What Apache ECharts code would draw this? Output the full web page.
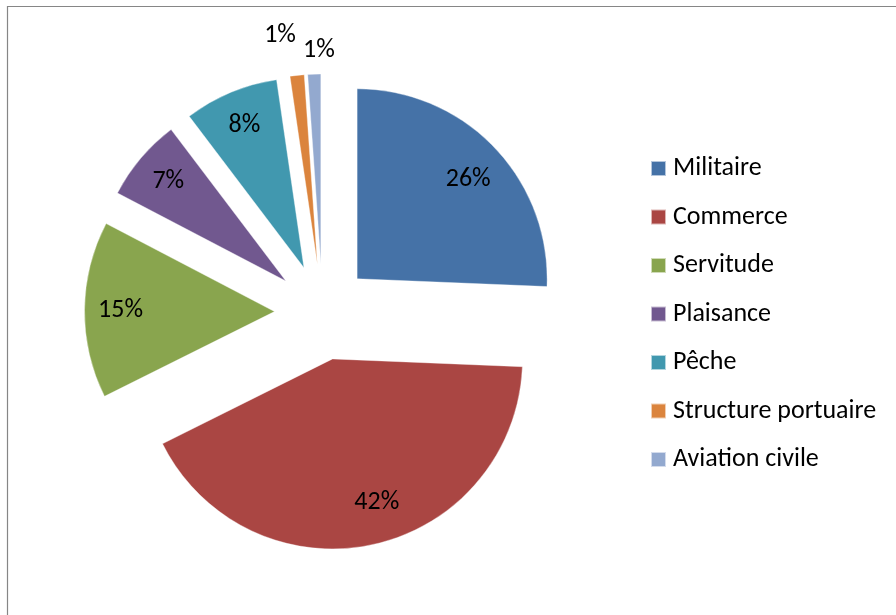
<!DOCTYPE html>
<html>
<head>
<meta charset="utf-8">
<script src="https://cdn.jsdelivr.net/npm/echarts@6/dist/echarts.min.js"></script>
<style>
  html, body { margin: 0; padding: 0; background: #ffffff; }
  #chart { width: 896px; height: 615px; }
</style>
</head>
<body>
<div id="chart"></div>
<script>
// Share of each activity (percent)
const categories = ['Militaire', 'Commerce', 'Servitude', 'Plaisance', 'Pêche', 'Structure portuaire', 'Aviation civile'];
const shares = [25.6, 41.9, 15.0, 7.0, 8.0, 1.2, 1.1];
const colors = ['#4572A7', '#AA4643', '#89A54E', '#71588F', '#4198AF', '#DB843D', '#93A9CF'];

const FONT = 'Carlito, Lato, sans-serif';
const FONT_SIZE = 26;
const CENTER = [322.5, 312];
const RADIUS = 190;
const EXPLODE = 48;
// small label nudges (px) so labels sit clear of each other
const LABEL_NUDGE = {
  'Militaire': [0, 7],
  'Commerce': [12, -7],
  'Structure portuaire': [-13, -2],
  'Aviation civile': [6, 14]
};

function pieData(extra) {
  return categories.map((name, i) => Object.assign({
    name: name,
    value: shares[i],
    selected: true
  }, extra ? extra(i) : {}));
}

const pctLabel = p => Math.round(p.percent) + '%';

const labelSeries = (radius, data) => ({
  type: 'pie',
  center: CENTER,
  radius: radius,
  startAngle: 90,
  clockwise: true,
  selectedMode: 'multiple',
  selectedOffset: EXPLODE,
  silent: true,
  avoidLabelOverlap: false,
  labelLayout: function (params) {
    const n = LABEL_NUDGE[categories[params.dataIndex]] || [0, 0];
    return { dx: n[0], dy: n[1], hideOverlap: false };
  },
  itemStyle: { color: 'rgba(0,0,0,0)' },
  select: { itemStyle: { color: 'rgba(0,0,0,0)' } },
  labelLine: { show: false },
  label: {
    position: 'inside',
    formatter: pctLabel,
    color: '#000000',
    fontFamily: FONT,
    fontSize: FONT_SIZE
  },
  data: data
});

const chart = echarts.init(document.getElementById('chart'), null, { renderer: 'canvas' });

chart.setOption({
  animation: false,
  backgroundColor: '#ffffff',
  color: colors,
  graphic: [{
    type: 'rect',
    shape: { x: 7.5, y: 6.5, width: 1000, height: 1000 },
    style: { fill: 'none', stroke: '#868686', lineWidth: 1.2 },
    silent: true,
    z: -10
  }],
  legend: {
    orient: 'vertical',
    left: 650,
    top: 155.5,
    padding: 0,
    data: categories,
    icon: 'rect',
    itemWidth: 15,
    itemHeight: 15,
    itemGap: 22.5,
    selectedMode: false,
    textStyle: { fontFamily: FONT, fontSize: FONT_SIZE, color: '#000000', lineHeight: 26, padding: [0, 0, 0, 2] }
  },
  series: [
    {
      // exploded slices
      type: 'pie',
      center: CENTER,
      radius: RADIUS,
      startAngle: 90,
      clockwise: true,
      selectedMode: 'multiple',
      selectedOffset: EXPLODE,
      avoidLabelOverlap: false,
      label: { show: false },
      labelLine: { show: false },
      itemStyle: { borderColor: 'rgba(255,255,255,0.6)', borderWidth: 0.6 },
      emphasis: { disabled: true },
      select: { itemStyle: { borderColor: 'rgba(255,255,255,0.6)', borderWidth: 0.6 } },
      data: pieData()
    },
    // percentage labels for the larger slices
    labelSeries([112, RADIUS], pieData(i => shares[i] < 2 ? { label: { show: false } } : {})),
    // percentage labels for the thin slices, placed beyond the rim
    labelSeries([200, 250], pieData(i => shares[i] < 2 ? {} : { label: { show: false } }))
  ]
});
</script>
</body>
</html>
